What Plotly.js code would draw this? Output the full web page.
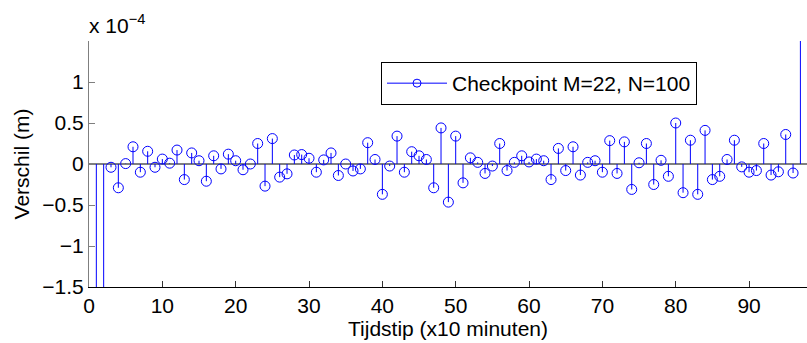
<!DOCTYPE html>
<html>
<head>
<meta charset="utf-8">
<script src="https://cdn.plot.ly/plotly-3.0.1.min.js"></script>
<style>html,body{margin:0;padding:0;background:#fff;}#chart{width:807px;height:343px;}</style>
</head>
<body>
<div id="chart"></div>
<script>
// Tijdstip (x10 minuten)
const tijdstip = [];
for (let i = 1; i <= 97; i++) tijdstip.push(i);
// Verschil (m), in units of 1e-4
const verschil_e4 = [
  -3.0, -2.5, -0.04, -0.29, 0.005, 0.21, -0.10, 0.155, -0.04, 0.06,
  0.01, 0.17, -0.19, 0.135, 0.04, -0.21, 0.10, -0.06, 0.12, 0.04,
  -0.07, 0.0, 0.25, -0.27, 0.31, -0.16, -0.12, 0.11, 0.115, 0.07,
  -0.10, 0.05, 0.135, -0.14, 0.0, -0.085, -0.06, 0.26, 0.055, -0.37,
  -0.025, 0.34, -0.10, 0.15, 0.10, 0.055, -0.29, 0.44, -0.465, 0.34,
  -0.23, 0.075, 0.02, -0.115, -0.025, 0.25, -0.08, 0.02, 0.10, 0.025,
  0.06, 0.04, -0.19, 0.19, -0.08, 0.21, -0.135, 0.02, 0.04, -0.10,
  0.285, -0.115, 0.27, -0.31, 0.015, 0.25, -0.25, 0.045, -0.15, 0.50,
  -0.35, 0.29, -0.37, 0.41, -0.19, -0.15, 0.055, 0.29, -0.035, -0.10,
  -0.08, 0.25, -0.135, -0.095, 0.36, -0.11, 1.9
];
const yTickVals = [-1.5, -1, -0.5, 0, 0.5, 1];
const xTickVals = [0, 10, 20, 30, 40, 50, 60, 70, 80, 90];
const seriesName = 'Checkpoint M=22, N=100';

const stemX = [], stemY = [];
tijdstip.forEach((t, i) => { stemX.push(t, t, null); stemY.push(0, verschil_e4[i], null); });

const blue = '#0000ff';
const font = 'Liberation Sans, Arial, Helvetica, sans-serif';

const traces = [
  {x: stemX, y: stemY, mode: 'lines', line: {color: blue, width: 1}, showlegend: false, hoverinfo: 'skip'},
  {x: tijdstip, y: verschil_e4, mode: 'markers', showlegend: false,
   marker: {symbol: 'circle-open', size: 10, color: blue, line: {width: 1, color: blue}}},
  {x: [null], y: [null], mode: 'lines+markers', name: seriesName, showlegend: true,
   line: {color: blue, width: 1}, marker: {symbol: 'circle-open', size: 8, color: blue, line: {width: 1, color: blue}}}
];

const layout = {
  width: 807, height: 343,
  margin: {l: 89, r: 0, t: 41, b: 56},
  paper_bgcolor: '#fff', plot_bgcolor: '#fff',
  font: {family: font, size: 21, color: '#000'},
  showlegend: true,
  legend: {x: 0.4067, y: 0.9146, xanchor: 'left', yanchor: 'top', bgcolor: '#fff',
           bordercolor: '#000', borderwidth: 1, font: {family: font, size: 21, color: '#000'},
           itemwidth: 60, tracegroupgap: 0},
  xaxis: {range: [0, 97.9], tickvals: xTickVals, ticks: 'inside', ticklen: 6, tickcolor: '#333',
          showline: true, linecolor: '#000', linewidth: 1, showgrid: false, zeroline: false,
          tickfont: {family: font, size: 21, color: '#000'},
          title: {text: 'Tijdstip (x10 minuten)', font: {family: font, size: 21, color: '#000'}, standoff: 1}},
  yaxis: {range: [-1.5, 1.5], tickvals: yTickVals, ticks: 'inside', ticklen: 6, tickcolor: '#7f7f7f',
          showline: true, linecolor: '#7f7f7f', linewidth: 1, showgrid: false,
          zeroline: true, zerolinecolor: '#7f7f7f', zerolinewidth: 1.5,
          tickfont: {family: font, size: 21, color: '#000'},
          title: {text: 'Verschil (m)', font: {family: font, size: 21, color: '#000'}, standoff: 6}},
  annotations: [{xref: 'paper', yref: 'paper', x: 0, y: 1, xanchor: 'left', yanchor: 'bottom', yshift: 2, xshift: -2,
                 showarrow: false, text: 'x 10<sup>−4</sup>', font: {family: font, size: 21, color: '#000'}}]
};

Plotly.newPlot('chart', traces, layout, {displayModeBar: false, staticPlot: true});
</script>
</body>
</html>
